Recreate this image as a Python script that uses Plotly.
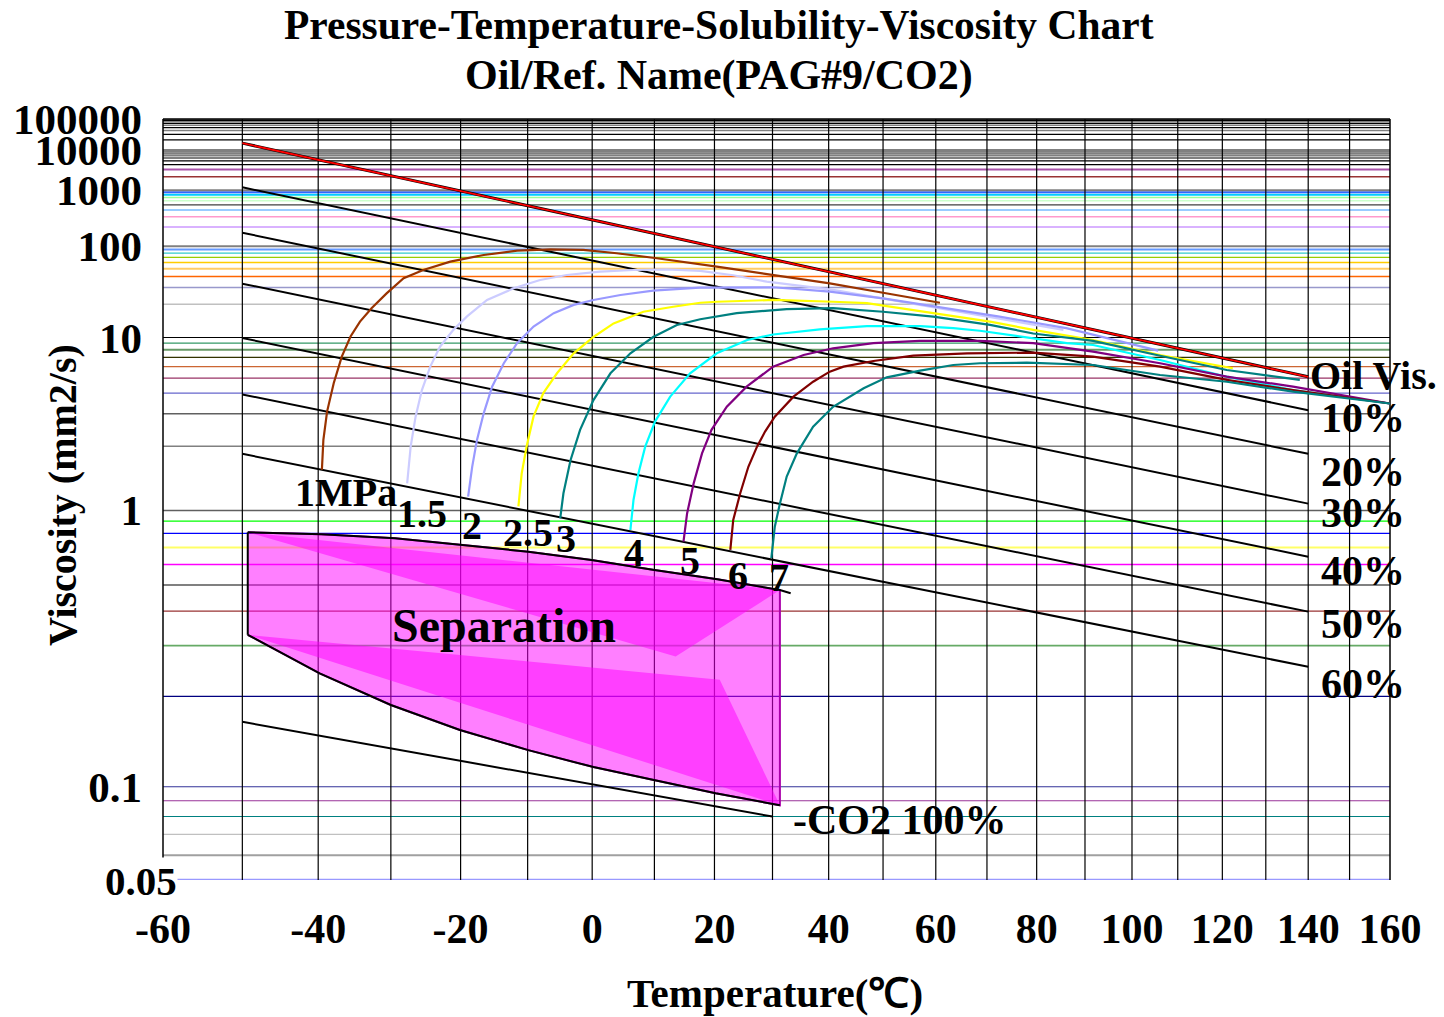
import numpy as np
import plotly.graph_objects as go

# ---------------- data (temperature in deg C, kinematic viscosity in mm2/s) ----------------
oil_T = [-50, 140]
oil_v = [16000, 5.1]

sol_labels = ["10%", "20%", "30%", "40%", "50%", "60%"]
sol_T = [-50, 140]
sol_v_start = [1150, 161, 33.1, 9.9, 3.92, 1.83]
sol_v_end = [3.15, 1.83, 1.07, 0.644, 0.398, 0.253]

co2_T = [-50, 30]
co2_v = [0.164, 0.080]

p_names = ["1MPa", "1.5", "2", "2.5", "3", "4", "5", "6", "7"]
p_colors = ["#993300", "#ccccff", "#9999ff", "#ffff00", "#008080", "#00ffff", "#800080", "#800000", "#008080"]

p1_T = [-39.5, -39.3, -38.8, -37.9, -36.8, -35.6, -34.3, -32.7, -30.6, -28.2, -25.4, -21.5, -16.6, -11.6, -6.5, -1.4, 3.9, 10.4, 20.4, 30.1, 40.2, 50.0, 60.8]
p1_v = [1.53, 2.16, 3.09, 4.62, 7.09, 10.2, 13.7, 18.3, 25.9, 38.2, 48.1, 61.4, 75.5, 86.6, 90.6, 89.0, 79.7, 68.1, 52.9, 41.8, 33.4, 26.3, 20.7]

p15_T = [-27.7, -27.2, -26.5, -25.6, -24.4, -23.0, -21.05, -19.1, -16.1, -12.1, -8.1, -4.0, 1.25, 6.6, 12.0, 17.6, 23.2, 29.0, 40.8, 53.2, 64.7, 85.5]
p15_v = [1.32, 1.99, 2.89, 4.18, 6.0, 8.44, 11.6, 15.2, 22.1, 29.4, 36.5, 41.8, 45.9, 48.1, 49.0, 47.0, 41.5, 34.9, 28.2, 21.2, 16.9, 11.6]

p2_T = [-18.9, -18.3, -17.6, -16.6, -15.35, -13.6, -11.6, -9.1, -6.0, -2.9, 0.2, 4.5, 9.8, 17.5, 30.1, 40.2, 50.0, 59.5, 72.5, 86.1, 105.7]
p2_v = [1.15, 1.58, 2.15, 3.02, 4.39, 6.34, 9.0, 12.4, 16.4, 19.7, 22.1, 24.9, 27.7, 29.9, 30.2, 27.0, 23.0, 19.2, 15.2, 12.0, 7.86]

p25_T = [-11.4, -10.9, -10.15, -9.1, -7.6, -5.5, -2.9, 0.2, 3.4, 8.2, 13.1, 17.6, 20.4, 30.1, 40.8, 47.0, 59.5, 70.6, 79.3, 91.7, 106.1, 122.4]
p25_v = [1.04, 1.47, 2.0, 2.9, 4.0, 5.39, 7.51, 10.1, 13.2, 16.9, 18.9, 20.7, 21.2, 22.1, 21.2, 20.5, 16.4, 13.7, 11.6, 9.54, 7.29, 5.84]

p3_T = [-5.0, -4.5, -3.4, -1.9, 0.2, 2.9, 6.1, 9.8, 13.7, 17.6, 23.8, 32.5, 40.8, 50.0, 59.5, 70.6, 79.3, 91.7, 106.1, 121.0, 138.0]
p3_v = [0.925, 1.19, 1.70, 2.44, 3.62, 5.39, 7.51, 10.1, 12.8, 14.4, 16.4, 17.9, 18.3, 16.9, 15.2, 12.8, 10.8, 9.4, 7.2, 5.68, 4.86]

p4_T = [6.1, 6.6, 7.4, 8.5, 10.1, 12.6, 15.9, 20.4, 25.6, 30.1, 38.4, 47.0, 57.0, 63.4, 68.6, 76.0, 86.2, 91.7, 106.1, 121.0, 136.4, 160]
p4_v = [0.826, 1.11, 1.47, 1.99, 2.71, 3.8, 5.39, 7.51, 9.54, 10.6, 11.7, 12.5, 12.5, 12.0, 11.4, 10.3, 9.0, 8.7, 6.69, 5.11, 4.18, 3.45]

p5_T = [14.8, 15.4, 16.5, 17.9, 19.5, 22.1, 25.5, 30.1, 35.5, 40.8, 48.2, 56.9, 68.6, 79.3, 91.7, 106.1, 121.0, 136.4, 160]
p5_v = [0.74, 0.97, 1.32, 1.84, 2.44, 3.30, 4.39, 6.0, 7.29, 8.2, 9.0, 9.4, 9.4, 9.0, 7.72, 6.34, 5.11, 4.39, 3.45]

p6_T = [22.7, 23.2, 24.4, 25.8, 27.3, 28.7, 30.4, 33.7, 37.2, 40.2, 42.7, 48.2, 55.7, 66.1, 79.3, 91.7, 106.1, 121.0, 136.4, 160]
p6_v = [0.685, 0.91, 1.19, 1.58, 1.99, 2.39, 2.89, 3.8, 4.73, 5.53, 6.0, 6.58, 7.21, 7.51, 7.6, 7.09, 6.0, 4.86, 4.18, 3.45]

p7_T = [29.8, 30.4, 31.3, 32.5, 34.3, 37.2, 40.8, 46.4, 50.7, 57.0, 63.4, 68.6, 78.0, 91.7, 106.1, 121.0, 136.4, 160]
p7_v = [0.635, 0.853, 1.07, 1.42, 1.84, 2.54, 3.30, 4.29, 5.06, 5.62, 6.16, 6.34, 6.4, 6.16, 5.25, 4.73, 4.08, 3.45]

p_T = [p1_T, p15_T, p2_T, p25_T, p3_T, p4_T, p5_T, p6_T, p7_T]
p_v = [p1_v, p15_v, p2_v, p25_v, p3_v, p4_v, p5_v, p6_v, p7_v]

# separation region
sep_top_T = [-49.3, -39.6, -29.4, -19.8, -9.9, -0.1, 10.0, 20.5, 31.3, 33.2]
sep_top_v = [0.808, 0.794, 0.764, 0.717, 0.674, 0.625, 0.571, 0.526, 0.479, 0.466]
sep_bot_T = [-49.3, -39.8, -30.0, -20.1, -9.9, 0.2, 10.1, 20.2, 31.3]
sep_bot_v = [0.328, 0.240, 0.187, 0.154, 0.132, 0.116, 0.105, 0.0952, 0.087]
shadeA_T = [-49.3, 31.3, 13.5]
shadeA_v = [0.808, 0.479, 0.275]
shadeB_T = [-49.3, 20.9, 31.3]
shadeB_v = [0.328, 0.228, 0.087]

# axis ticks
x_ticks = [-60, -40, -20, 0, 20, 40, 60, 80, 100, 120, 140, 160]
y_ticks = [0.1, 1, 10, 100, 1000, 10000, 100000]
y_tick_text = ["0.1", "1", "10", "100", "1000", "10000", "100000"]

grid_T = list(range(-50, 160, 10))
grid_v = [0.05, 0.06, 0.07, 0.08, 0.09, 0.1, 0.2, 0.3, 0.4, 0.5, 0.6, 0.7, 0.8, 0.9,
          1, 2, 3, 4, 5, 6, 7, 8, 9, 10, 20, 30, 40, 50, 60, 70, 80, 90,
          100, 200, 300, 400, 500, 600, 700, 800, 900, 1000, 2000, 3000, 4000, 5000,
          6000, 7000, 8000, 9000, 10000, 20000, 30000, 40000, 50000, 60000, 70000,
          80000, 90000, 100000]
grid_c = ["#9999ff", "#a0a0a0", "#c0c0c0", "#008080", "#993399", "#333399", "#000080", "#66aa66",
          "#993333", "#808080", "#ff00ff", "#ffff66", "#0000ff", "#00ff00",
          "#606060", "#808080", "#606060", "#6666cc", "#993366", "#cc6633", "#333300", "#669966",
          "#339966", "#000000", "#c0c0c0", "#9999cc", "#ff6600", "#ffcc66", "#ffcc00", "#99cc00",
          "#33cccc", "#6699ff", "#808080", "#cc99ff", "#ff99cc", "#99ccff", "#404040", "#ccffcc",
          "#99ff99", "#00ccff", "#3366ff", "#808080", "#993333", "#aa55aa", "#000000", "#000000",
          "#000000", "#808080", "#808080", "#808080", "#808080", "#000000", "#000000", "#808080",
          "#000000", "#808080", "#000000", "#808080", "#000000", "#000000"]
grid_w = [2.5, 2, 1.2, 1.2, 1.2, 1.2, 1.2, 1.8, 1.2, 2, 1.5, 2, 1.2, 1.2,
          1.5, 1.5, 1.5, 1.2, 1.2, 1.2, 1.2, 2, 1.2, 1.2, 1.5, 1.5, 1.5, 2, 1.5, 1.2,
          1.2, 2, 2, 1.5, 1.5, 2, 1.2, 1.5, 1.5, 2, 2, 2, 1.5, 2, 1.2, 1.2,
          1.2, 2, 2, 2, 2, 1.2, 1.2, 1.5, 1.2, 1.5, 1.2, 1.5, 1.2, 1.2]


# ---------------- scales: ASTM-type chart ----------------
def tx(t):
    return np.log10(np.asarray(t, dtype=float) + 273.15)


def ty(v):
    return np.log10(np.log10(np.asarray(v, dtype=float) + 1.0))


W, H = 1444, 1017
ML, MR, MT, MB = 163, 54, 119, 137
PW, PH = W - ML - MR, H - MT - MB


def ax(px):
    return (px - ML) / PW


def ay(py):
    return (H - MB - py) / PH


FONT = "Liberation Serif"
fig = go.Figure()

# separation area (semi-transparent magenta layers)
poly_T = sep_top_T[:-1] + sep_bot_T[::-1]
poly_v = sep_top_v[:-1] + sep_bot_v[::-1]
fig.add_trace(go.Scatter(x=tx(poly_T), y=ty(poly_v), mode="lines", fill="toself",
                         fillcolor="rgba(255,0,255,0.5)", line=dict(color="#aa00aa", width=2),
                         hoverinfo="skip", showlegend=False))
for sT, sv in [(shadeA_T, shadeA_v), (shadeB_T, shadeB_v)]:
    fig.add_trace(go.Scatter(x=tx(sT), y=ty(sv), mode="lines", fill="toself",
                             fillcolor="rgba(255,0,255,0.5)", line=dict(width=0),
                             hoverinfo="skip", showlegend=False))
# black outline of separation area
fig.add_trace(go.Scatter(x=tx(sep_top_T), y=ty(sep_top_v), mode="lines",
                         line=dict(color="black", width=2), showlegend=False))
fig.add_trace(go.Scatter(x=tx(sep_bot_T), y=ty(sep_bot_v), mode="lines",
                         line=dict(color="black", width=2), showlegend=False))
fig.add_trace(go.Scatter(x=tx([sep_top_T[0], sep_bot_T[0]]), y=ty([sep_top_v[0], sep_bot_v[0]]),
                         mode="lines", line=dict(color="black", width=2), showlegend=False))

# solubility lines
for i, lab in enumerate(sol_labels):
    fig.add_trace(go.Scatter(x=tx(sol_T), y=ty([sol_v_start[i], sol_v_end[i]]), mode="lines",
                             line=dict(color="black", width=2), name=lab, showlegend=False))
fig.add_trace(go.Scatter(x=tx(co2_T), y=ty(co2_v), mode="lines",
                         line=dict(color="black", width=2), name="CO2 100%", showlegend=False))

# pressure curves
for name, col, tt, vv in zip(p_names, p_colors, p_T, p_v):
    fig.add_trace(go.Scatter(x=tx(tt), y=ty(vv), mode="lines",
                             line=dict(color=col, width=2.2), name=name, showlegend=False))

# oil viscosity line
fig.add_trace(go.Scatter(x=tx(oil_T), y=ty(oil_v), mode="lines",
                         line=dict(color="black", width=3), showlegend=False, hoverinfo="skip"))
fig.add_trace(go.Scatter(x=tx(oil_T), y=ty(oil_v), mode="lines",
                         line=dict(color="#ff0000", width=1.8), name="Oil Vis.", showlegend=False))

# grid lines
shapes = []
for v, c, w in zip(grid_v, grid_c, grid_w):
    shapes.append(dict(type="line", xref="paper", x0=0, x1=1, yref="y", y0=float(ty(v)), y1=float(ty(v)),
                       line=dict(color=c, width=w), layer="below"))
for t in grid_T:
    shapes.append(dict(type="line", xref="x", x0=float(tx(t)), x1=float(tx(t)), yref="paper", y0=0, y1=1,
                       line=dict(color="#000000", width=1.2), layer="below"))
for xx in [0, 1]:
    shapes.append(dict(type="line", xref="paper", x0=xx, x1=xx, yref="paper", y0=0, y1=1,
                       line=dict(color="#000000", width=1.5), layer="below"))
shapes.append(dict(type="line", xref="paper", x0=0, x1=1, yref="paper", y0=1, y1=1,
                   line=dict(color="#000000", width=1.5), layer="below"))


def ann(text, px, py, size=40, xanchor="center", bg=None, angle=0):
    d = dict(text="<b>%s</b>" % text, xref="paper", yref="paper", x=ax(px), y=ay(py),
             xanchor=xanchor, yanchor="middle", showarrow=False, textangle=angle,
             font=dict(family=FONT, size=size, color="black"))
    if bg:
        d["bgcolor"] = bg
        d["borderpad"] = 0
    return d


annotations = [
    ann("Pressure-Temperature-Solubility-Viscosity Chart", 719, 25, size=41.5),
    ann("Oil/Ref. Name(PAG#9/CO2)", 719, 76, size=42),
    ann("Temperature(℃)", 775, 993, size=41),
    ann("Viscosity (mm2/s)", 62, 495, angle=-90),
    ann("0.05", 141, 881, bg="white", size=41),
    ann("Oil Vis.", 1373, 376),
    ann("1MPa", 346, 492),
    ann("1.5", 422, 513),
    ann("2", 472, 525),
    ann("2.5", 528, 532),
    ann("3", 566, 538),
    ann("4", 634, 552),
    ann("5", 690, 560),
    ann("6", 738, 575),
    ann("7", 779, 577),
    ann("Separation", 504, 625, size=48),
    ann("-CO2 100%", 900, 820, size=42),
]
for lab, py in zip(sol_labels, [418, 472, 513, 571, 624, 684]):
    annotations.append(ann(lab, 1363, py, size=42))

fig.update_layout(
    width=W, height=H,
    margin=dict(l=ML, r=MR, t=MT, b=MB, pad=0),
    paper_bgcolor="white", plot_bgcolor="white",
    showlegend=False,
    shapes=shapes,
    annotations=annotations,
    font=dict(family=FONT, color="black"),
)
fig.update_xaxes(range=[float(tx(-60)), float(tx(160))], tickvals=[float(v) for v in tx(x_ticks)],
                 ticktext=["<b>%d</b>" % t for t in x_ticks], showgrid=False, zeroline=False,
                 showline=False, ticks="", tickfont=dict(family=FONT, size=42, color="black"),
                 ticklabelstandoff=20, automargin=False)
fig.update_yaxes(range=[float(ty(0.05)), float(ty(100000))], tickvals=[float(v) for v in ty(y_ticks)],
                 ticktext=["<b>%s</b>" % t for t in y_tick_text], showgrid=False, zeroline=False,
                 showline=False, ticks="", tickfont=dict(family=FONT, size=43, color="black"),
                 ticklabelstandoff=20, automargin=False)

fig.write_html("out.html")
